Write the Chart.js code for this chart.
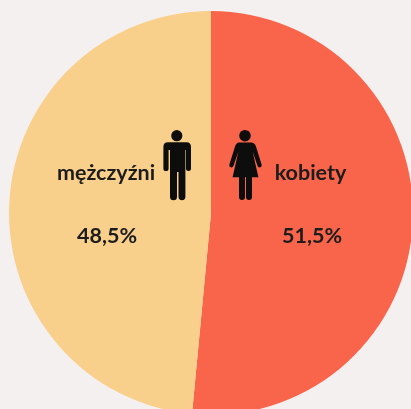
<!DOCTYPE html>
<html lang="pl">
<head>
<meta charset="utf-8">
<title>Kobiety i mężczyźni</title>
<script src="https://cdn.jsdelivr.net/npm/chart.js@4/dist/chart.umd.min.js"></script>
<style>
  html, body { margin: 0; padding: 0; width: 411px; height: 409px; overflow: hidden; background: #f4f0f0; }
  canvas { position: absolute; left: 0; top: 0; }
</style>
</head>
<body>
<canvas id="pie" width="422" height="426"></canvas>
<script>
const categories = ['kobiety', 'mężczyźni'];
const shares = [51.5, 48.5];
const shareLabels = ['51,5%', '48,5%'];
const sliceColors = ['#f8654b', '#f9d08b'];

// label anchors (x centre, y middle) for name and share
const labelSpots = [
  { name: [310.5, 173], share: [312, 236.5] },
  { name: [106, 173], share: [107, 236.5] },
];

const MAN = new Path2D(
  'M171.2 135.7a5.6 5.6 0 1 0 11.2 0a5.6 5.6 0 1 0 -11.2 0Z' +
  'M168 142.3H186.5Q191 142.3 191 147V168.5a2.5 2.5 0 0 1 -5 0V150H185.4V196.7a3.3 3.3 0 0 1 -6.9 0V172H177V196.7a3.3 3.3 0 0 1 -7 0V150H168.6V168.5a2.6 2.6 0 0 1 -5.2 0V147Q163.3 142.3 168 142.3Z'
);
const WOMAN = new Path2D(
  'M239.2 135.7a5.8 5.8 0 1 0 11.6 0a5.8 5.8 0 1 0 -11.6 0Z' +
  'M239 142.5H251Q254.5 142.5 255.8 146L261.6 164.6a2.1 2.1 0 0 1 -4 1.4L252.6 151.5L258.4 177.3H252V197a3 3 0 0 1 -6 0V177.3H245V197a3 3 0 0 1 -6 0V177.3H232.6L238.4 151.5L233.4 166a2.1 2.1 0 0 1 -4 -1.4L235.2 146Q236.5 142.5 239 142.5Z'
);

const figuresAndLabels = {
  id: 'figuresAndLabels',
  afterDatasetsDraw(chart) {
    const ctx = chart.ctx;
    ctx.save();
    ctx.fillStyle = '#0d0d0d';
    ctx.fill(MAN);
    ctx.fill(WOMAN);
    ctx.fillStyle = '#1c1c1c';
    ctx.font = 'bold 21.5px Lato, "Open Sans", sans-serif';
    ctx.textAlign = 'center';
    ctx.textBaseline = 'middle';
    categories.forEach((name, i) => {
      const spot = labelSpots[i];
      ctx.fillText(name, spot.name[0], spot.name[1]);
      ctx.fillText(shareLabels[i], spot.share[0], spot.share[1]);
    });
    ctx.restore();
  }
};

new Chart(document.getElementById('pie').getContext('2d'), {
  type: 'pie',
  data: {
    labels: categories,
    datasets: [{
      data: shares,
      backgroundColor: sliceColors,
      borderWidth: 0,
    }]
  },
  options: {
    responsive: false,
    animation: false,
    layout: { padding: 9 },
    plugins: {
      legend: { display: false },
      tooltip: { enabled: false },
    }
  },
  plugins: [figuresAndLabels]
});
</script>
</body>
</html>
